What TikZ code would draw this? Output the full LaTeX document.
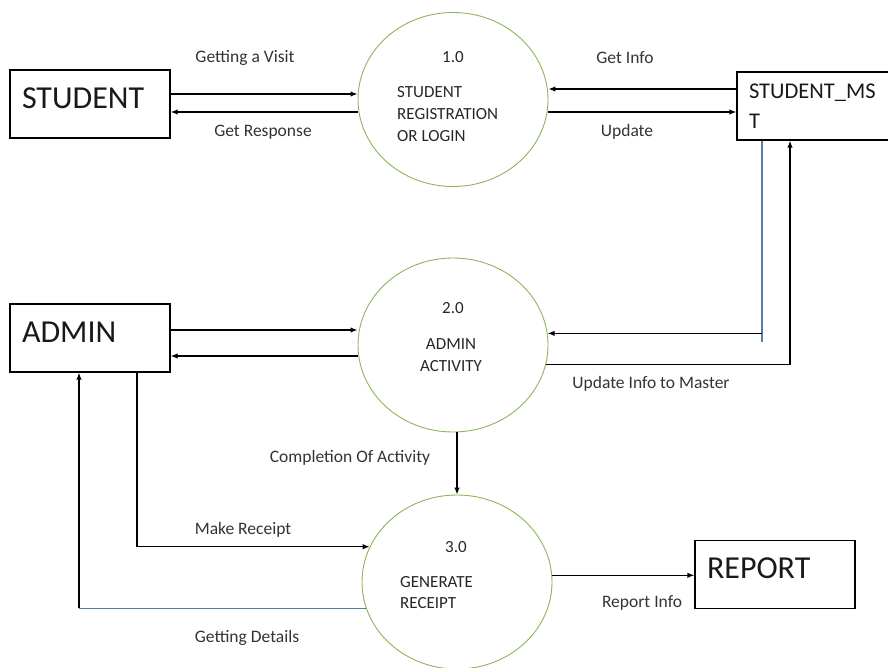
\documentclass[tikz,border=0pt]{standalone}
\usepackage{fontspec}
\setmainfont{Carlito}
\usetikzlibrary{arrows.meta,shapes.geometric}
\definecolor{procgreen}{RGB}{140,180,90}
\definecolor{linkblue}{RGB}{90,125,165}
\tikzset{
	entity/.style={rectangle,draw,line width=1.3pt,minimum width=160pt,minimum height=68pt,inner xsep=12pt,text width=136pt,align=left,text=black!90},
	bigname/.style={entity,font=\fontsize{32}{38}\selectfont,text depth=12pt},
	process/.style={ellipse,draw=procgreen,line width=0.9pt,minimum width=190pt,minimum height=174pt,inner sep=0pt},
	flow/.style={line width=1.3pt,-{Latex[length=7pt,width=5.5pt]}},
	linkline/.style={line width=1.1pt,draw=linkblue},
	lbl/.style={font=\fontsize{17.5}{21}\selectfont,text=black!80,inner sep=0pt},
	ptext/.style={font=\fontsize{17}{22}\selectfont,text=black!85,inner sep=0pt}
}
\begin{document}
\begin{tikzpicture}[x=1pt,y=-1pt]
				\useasboundingbox (0,0) rectangle (888,668);
				\clip (0,0) rectangle (888,668);
				
				% external entities
				\node[bigname] (student) at (90,104) {STUDENT};
				\node[entity,font=\fontsize{22.5}{29.5}\selectfont] (mst) at (817,106) {STUDENT\_MS\\T};
				\node[bigname] (admin) at (90,338) {ADMIN};
				\node[bigname] (report) at (775,574.5) {REPORT};
				
				% processes
				\node[process] (c1) at (453,99.5) {};
				\node[process] (c2) at (453,345) {};
				\node[process] (c3) at (457,582) {};
				\begin{scope}[every node/.style={ptext}]
					\node (c1num) at (453,57) {1.0};
					\node[anchor=west,align=left] (c1txt) at (397,114) {STUDENT\\REGISTRATION\\OR LOGIN};
					\node (c2num) at (453,308) {2.0};
					\node[align=center] (c2txt) at (451,355) {ADMIN\\ACTIVITY};
					\node (c3num) at (456,547) {3.0};
					\node[anchor=west,align=left,font=\fontsize{17}{21}\selectfont] (c3txt) at (400,593) {GENERATE\\RECEIPT};
				\end{scope}
				
				% flows
				\draw[flow] ([yshift=10pt]student.east) -- ([yshift=10pt]student.east -| c1.west);
				\draw[flow] ([yshift=-8pt]student.east -| c1.west) -- ([yshift=-8pt]student.east);
				\draw[flow] ([yshift=17pt]mst.west) -- ([yshift=17pt]mst.west -| c1.east);
				\draw[flow] ([yshift=-6pt]mst.west -| c1.east) -- ([yshift=-6pt]mst.west);
				\draw[linkline] ([xshift=-55pt]mst.south) -- ([xshift=-55pt]mst.south |- c2.7) coordinate (mstdrop) -- ++(0,9);
				\draw[flow] (mstdrop) -- (c2.7);
				\draw[flow] (c2.-12) -- ([xshift=-27pt]mst.south |- c2.-12) -- ([xshift=-27pt]mst.south);
				\draw[flow] ([yshift=8pt]admin.east) -- ([yshift=8pt]admin.east -| c2.west);
				\draw[flow] ([yshift=-18pt]admin.east -| c2.west) -- ([yshift=-18pt]admin.east);
				\draw[flow] (c3.north |- c2.south) -- (c3.north);
				\draw[flow] ([xshift=47pt]admin.south) |- (c3.158);
				\draw[linkline] (c3.196) -- ([xshift=-11pt]admin.south |- c3.196) coordinate (detcorner);
				\draw[flow] (detcorner) -- ([xshift=-11pt]admin.south);
				\draw[flow] (c3.4) -- (c3.4 -| report.west);
				
				% flow labels
				\begin{scope}[every node/.style={lbl}]
					\node (lvisit) at (245,58) {Getting a Visit};
					\node (lresp) at (263,132) {Get Response};
					\node (linfo) at (625,58) {Get Info};
					\node (lupd) at (627,132) {Update};
					\node (lmaster) at (651,384) {Update Info to Master};
					\node (ldone) at (350,458) {Completion Of Activity};
					\node (lmake) at (243,530) {Make Receipt};
					\node (ldet) at (247,638) {Getting Details};
					\node (lrep) at (642,603) {Report Info};
				\end{scope}
			\end{tikzpicture}
\end{document}
